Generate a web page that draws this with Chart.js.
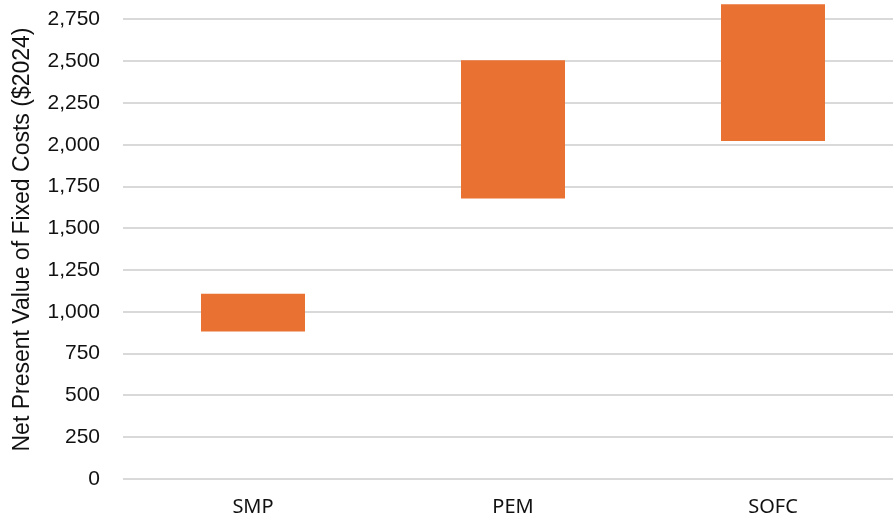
<!DOCTYPE html>
<html>
<head>
<meta charset="utf-8">
<script src="https://cdn.jsdelivr.net/npm/chart.js@4/dist/chart.umd.min.js"></script>
<style>
  html, body { margin: 0; padding: 0; background: #fff; overflow: hidden; }
  #wrap { width: 903px; height: 523px; }
</style>
</head>
<body>
<div id="wrap"><canvas id="c"></canvas></div>
<script>
// Fixed-cost ranges (low, high) per technology, $2024
const categories = ['SMP', 'PEM', 'SOFC'];
const lowValues = [882, 1678, 2023];
const highValues = [1109, 2506, 2841];
const yTitle = 'Net Present Value of Fixed Costs ($2024)';

const ranges = categories.map((_, i) => [lowValues[i], highValues[i]]);

new Chart(document.getElementById('c'), {
  type: 'bar',
  data: {
    labels: categories,
    datasets: [{
      data: ranges,
      backgroundColor: '#E97132',
      borderWidth: 0,
      categoryPercentage: 1,
      barPercentage: 0.4
    }]
  },
  options: {
    responsive: true,
    maintainAspectRatio: false,
    animation: false,
    layout: { padding: 0 },
    plugins: { legend: { display: false }, tooltip: { enabled: false } },
    scales: {
      x: {
        grid: { display: false, drawTicks: false },
        border: { display: false },
        ticks: {
          color: '#111',
          font: { family: '"Noto Sans", sans-serif', size: 20 },
          padding: 16
        },
        afterFit: (s) => { s.height = 44; s.paddingLeft = 0; s.paddingRight = 0; }
      },
      y: {
        min: 0,
        max: 2866,
        ticks: {
          stepSize: 250,
          includeBounds: false,
          color: '#111',
          padding: 23,
          font: { family: '"Liberation Sans", Arial, sans-serif', size: 21 },
          callback: (v) => v.toLocaleString('en-US')
        },
        grid: { color: '#D9D9D9', lineWidth: 2, drawTicks: false },
        border: { display: false },
        title: {
          display: true,
          text: yTitle,
          color: '#111',
          font: { family: '"Liberation Sans", Arial, sans-serif', size: 23 },
          padding: { top: 9, bottom: 0 }
        },
        afterFit: (s) => { s.width = 123; s.paddingTop = 0; s.paddingBottom = 0; }
      }
    }
  }
});
</script>
</body>
</html>
